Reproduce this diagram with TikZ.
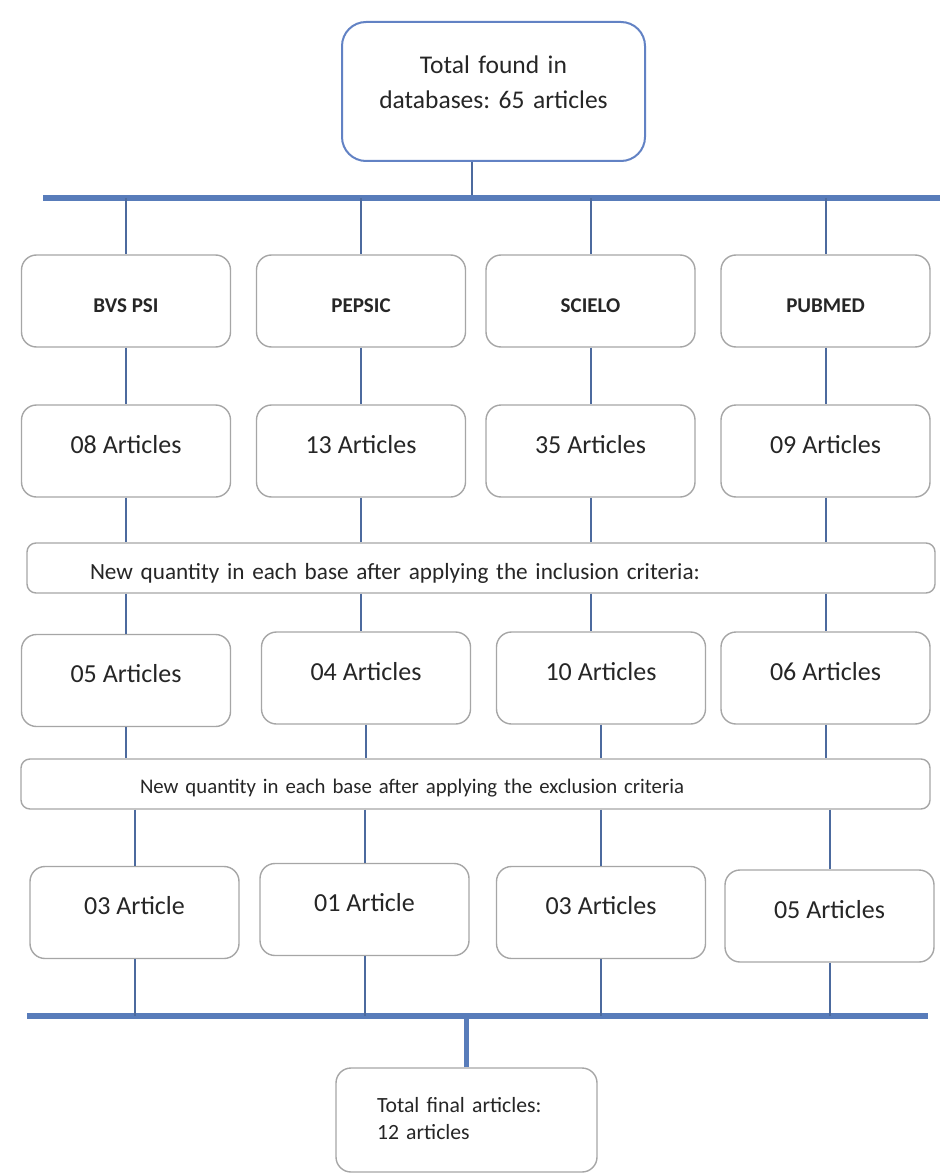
\documentclass[tikz,border=0pt]{standalone}
\usepackage{fontspec}
\setmainfont{Carlito}
\usepackage{tikz}
\usetikzlibrary{calc,positioning}
\frenchspacing
\definecolor{linie}{RGB}{76,106,158}
\definecolor{balkenblau}{RGB}{88,124,186}
\definecolor{oberrand}{RGB}{98,130,196}
\definecolor{rahmen}{RGB}{166,166,166}
\definecolor{schrift}{RGB}{38,38,38}
\tikzset{
  kasten/.style={draw=rahmen,line width=1.4pt,rounded corners=15pt,fill=white,text=schrift,
    minimum width=209pt,inner ysep=0pt},
  datenbank/.style={kasten,font=\fontsize{21}{25}\selectfont\bfseries,text height=57pt,text depth=35pt},
  anzahl/.style={kasten,font=\fontsize{26}{30}\selectfont,text height=48pt,text depth=44pt},
  hinweis/.style={draw=rahmen,line width=1.4pt,rounded corners=9pt,fill=white,text=schrift,
    align=left,inner ysep=0pt},
  stiel/.style={draw=linie,line width=2pt},
  balken/.style={draw=balkenblau,line width=6pt}
}
\begin{document}
\begin{tikzpicture}[x=1pt,y=-1pt]
\useasboundingbox (0,0) rectangle (940,1174);
%Kasten oben
\node[kasten,draw=oberrand,line width=2pt,rounded corners=24pt,text width=280pt,inner xsep=11.5pt,
  align=center,font=\fontsize{25.5}{35}\selectfont,text height=52pt,text depth=87pt]
  (gesamt) at (493.5,91.5) {Total found in\\databases: 65 articles};
\coordinate (oben) at (472,198);
\coordinate (l1) at (43,198);
\coordinate (r1) at (940,198);
%Datenbanken und erste Zahlen
\foreach \i/\x/\name/\zahl in {1/126/BVS PSI/08,2/361/PEPSIC/13,3/590.5/SCIELO/35,4/825.5/PUBMED/09}{
  \node[datenbank] (db\i) at (\x,301) {\name};
  \node[anzahl] (a\i) at (\x,451) {\zahl\ Articles};
}
\node[hinweis,text width=782pt,inner xsep=63pt,font=\fontsize{23.2}{27}\selectfont,text height=36pt,text depth=14pt]
  (ein) at (481,568) {New quantity in each base after applying the inclusion criteria:};
%nach Einschluss
\foreach \i/\x/\y/\zahl in {1/126/680.5/05,2/366/678/04,3/601/678/10,4/825.5/678/06}{
  \node[anzahl] (b\i) at (\x,\y) {\zahl\ Articles};
}
\node[hinweis,text width=671pt,inner xsep=119pt,font=\fontsize{20.8}{24}\selectfont,text height=34.5pt,text depth=15.5pt]
  (aus) at (475.5,784) {New quantity in each base after applying the exclusion criteria};
%nach Ausschluss
\foreach \i/\x/\y/\text in {1/134.5/912.5/03 Article,2/364.5/909.5/01 Article,3/601/912.5/03 Articles,4/829.5/916/05 Articles}{
  \node[anzahl] (c\i) at (\x,\y) {\text};
}
\coordinate (l2) at (27,1016);
\coordinate (r2) at (928,1016);
\node[kasten,text width=179pt,inner xsep=41pt,align=left,font=\fontsize{21.7}{27}\selectfont,
  text height=44pt,text depth=60pt] (ende) at (466.5,1120) {Total final articles:\\12 articles};
%Linien
\draw[stiel] (oben |- gesamt.south) -- (oben);
\draw[balken] (l1) -- (r1);
\draw[balken] (l2) -- (r2);
\foreach \i in {1,...,4}{
  \draw[stiel] (db\i.north |- l1) -- (db\i.north);
  \draw[stiel] (db\i.south) -- (a\i.north);
  \draw[stiel] (a\i.south) -- (a\i.south |- ein.north);
  \draw[stiel] (a\i.south |- ein.south) -- (a\i.south |- b\i.north);
  \draw[stiel] (b\i.south) -- (b\i.south |- aus.north);
  \draw[stiel] (c\i.north |- aus.south) -- (c\i.north);
  \draw[stiel] (c\i.south) -- (c\i.south |- l2);
}
\draw[stiel,draw=balkenblau,line width=5pt] (ende.north) -- (ende.north |- l2);
\end{tikzpicture}
\end{document}
